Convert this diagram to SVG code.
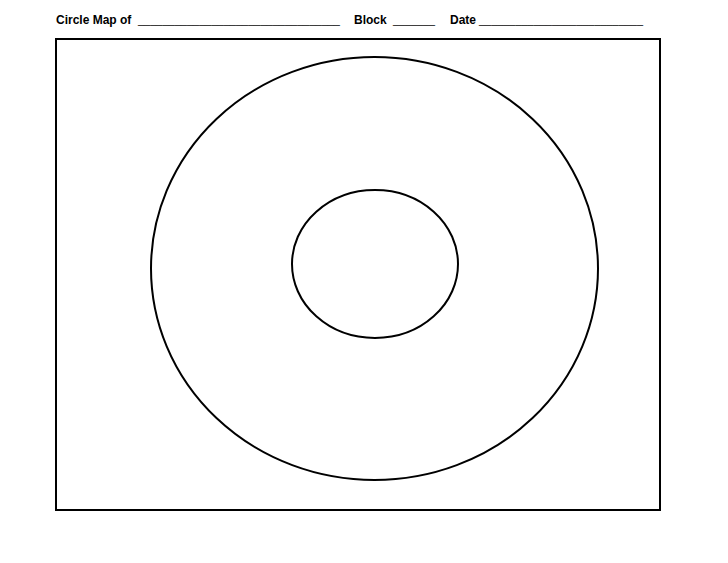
<svg xmlns="http://www.w3.org/2000/svg" width="728" height="563" viewBox="0 0 728 563">
<style>
.t{font-family:"Liberation Sans",Arial,sans-serif;font-weight:bold;font-size:12px;fill:#000}
.u{font-family:"Liberation Sans",Arial,sans-serif;font-size:11px;fill:#000}
.s{fill:none;stroke:#000;stroke-width:2}
</style>
<rect x="0" y="0" width="728" height="563" fill="#fff"/>
<g id="header">
<text class="t" x="56" y="24">Circle Map of</text>
<text class="u" x="138" y="24" textLength="202" lengthAdjust="spacingAndGlyphs">_________________________________</text>
<text class="t" x="354" y="24">Block</text>
<text class="u" x="393" y="24" textLength="42" lengthAdjust="spacingAndGlyphs">_______</text>
<text class="t" x="450" y="24">Date</text>
<text class="u" x="479" y="24" textLength="164" lengthAdjust="spacingAndGlyphs">___________________________</text>
</g>
<g id="frame"><rect class="s" x="56" y="39" width="604" height="471"/></g>
<g id="outer-circle"><ellipse class="s" cx="374.5" cy="268.5" rx="223.5" ry="211.5"/></g>
<g id="inner-circle"><ellipse class="s" cx="375" cy="264" rx="83" ry="74"/></g>
<g id="connectors"></g>
</svg>
